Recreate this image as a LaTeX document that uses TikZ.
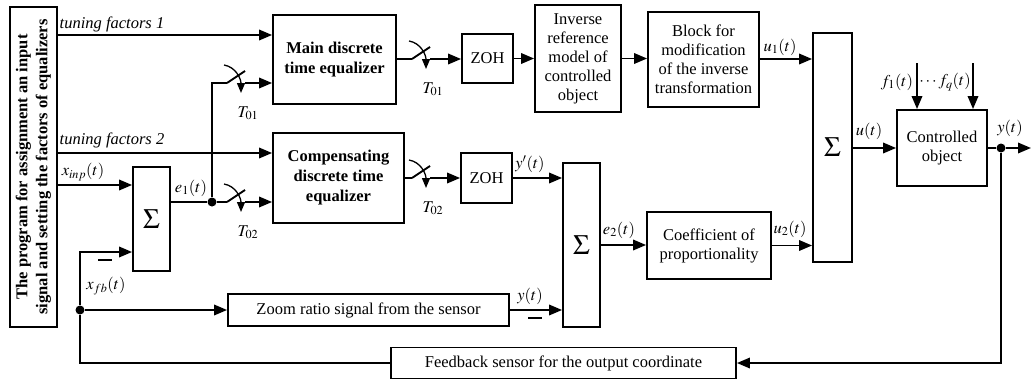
\documentclass[tikz,border=0pt]{standalone}
\usepackage{mathptmx}
\usepackage{fontspec}
\setmainfont{Liberation Serif}
\usetikzlibrary{arrows.meta}
\usetikzlibrary{positioning, calc}

\begin{document}
\begin{tikzpicture}[
    x=1pt, y=-1pt,
    line width=1.9pt,
    font=\fontsize{16.5}{19}\selectfont,
    >={Triangle[length=13pt, width=10.5pt]},
    block/.style={draw, line width=1.9pt, inner sep=0pt, align=center},
    bblock/.style={block, font=\fontsize{16.5}{20}\selectfont\bfseries},
    summer/.style={block, font=\fontsize{28}{28}\selectfont},
    lbl/.style={inner sep=0pt},
    tune/.style={lbl, font=\fontsize{16.5}{19}\selectfont\itshape},
    dot/.style={circle, fill, minimum size=9pt, inner sep=0pt},
    samp/.style={line width=1.3pt, -{Triangle[length=10pt, width=8pt]}}
]
    \useasboundingbox (0,0) rectangle (1032,380);

    \draw (33.5,167) node[bblock, rotate=90, minimum width=320, minimum height=47] (prog) {The program for assignment an input\\signal and setting the factors of equalizers};

    \draw (334.5,59.5) node[bblock, minimum width=123, minimum height=89] (maineq) {Main discrete\\time equalizer};
    \draw (338.5,178) node[bblock, minimum width=131, minimum height=90] (compeq) {Compensating\\discrete time\\equalizer};
    \draw (151.5,219) node[summer, minimum width=37, minimum height=104] (sum1) {$\Sigma$};
    \draw (487.5,58.5) node[block, minimum width=51, minimum height=49] (zoh1) {ZOH};
    \draw (486.5,178) node[block, minimum width=51, minimum height=50] (zoh2) {ZOH};
    \draw (578,58.5) node[block, minimum width=86, minimum height=107] (inv) {Inverse\\reference\\model of\\controlled\\object};
    \draw (703.5,59.5) node[block, minimum width=111, minimum height=95] (modif) {Block for\\modification\\of the inverse\\transformation};
    \draw (581.5,245) node[summer, minimum width=37, minimum height=164] (sum2) {$\Sigma$};
    \draw (709,245.5) node[block, minimum width=124, minimum height=67] (coef) {Coefficient of\\proportionality};
    \draw (832.5,147.5) node[summer, minimum width=39, minimum height=229] (sum3) {$\Sigma$};
    \draw (942,148) node[block, minimum width=90, minimum height=76] (plant) {Controlled\\object};
    \draw (368.5,310) node[block, minimum width=281, minimum height=32] (zoomsig) {Zoom ratio signal from the sensor};
    \draw (563.5,363) node[block, minimum width=345, minimum height=31] (fbsens) {Feedback sensor for the output coordinate};

    \coordinate (lv1) at (0,35);
    \coordinate (lv2) at (0,153);
    \coordinate (lv3) at (0,185);
    \coordinate (lv4) at (0,252);
    \node[dot] (j1) at (212,202) {};
    \node[dot] (j2) at (80,310) {};
    \node[dot] (j3) at (1001,148) {};

    % samplers
    \foreach \sw/\px/\py/\tgt/\lab in {a/227/83/maineq/T_{01}, b/227/202/compeq/T_{02}, c/412/59/zoh1/T_{01}, d/412/178/zoh2/T_{02}} {
        \coordinate (\sw p) at (\px,\py);
        \coordinate (\sw q) at ($(\sw p)+(18,0)$);
        \draw (\sw p) -- ++(18,-12);
        \draw[->] (\sw q) -- (\tgt.west |- \sw q);
        \draw[samp] ($(\sw p)+(-3,-18)$) .. controls +(12,2) and +(0,-14) .. ($(\sw p)+(14,10)$);
        \node[lbl] (\sw t) at ($(\sw p)+(21,30)$) {$\lab$};
    }

    \draw[->] (prog.south |- lv1) -- (maineq.west |- lv1);
    \draw[->] (prog.south |- lv2) -- (compeq.west |- lv2);
    \draw[->] (prog.south |- lv3) -- (sum1.west |- lv3);
    \draw (sum1.east |- j1) -- (j1);
    \draw (j1) |- (ap);
    \draw (j1) -- (bp);
    \draw (maineq.east |- cp) -- (cp);
    \draw (compeq.east |- dp) -- (dp);

    \draw[->] (zoh1.east) -- (inv.west |- zoh1.east);
    \draw[->] (inv.east) -- (modif.west |- inv.east);
    \draw[->] (modif.east |- cp) -- (sum3.west |- cp);
    \draw[->] (zoh2.east) -- (sum2.west |- zoh2.east);
    \draw[->] (zoomsig.east) -- (sum2.west |- zoomsig.east);
    \draw[->] (sum2.east) -- (coef.west |- sum2.east);
    \draw[->] (coef.east) -- (sum3.west |- coef.east);
    \draw[->] (sum3.east |- plant.west) -- (plant.west);

    \coordinate (out) at (1031,148);
    \coordinate (f1) at (917,63);
    \coordinate (fq) at (973,63);
    \draw (plant.east) -- (j3);
    \draw[->] (j3) -- (out);
    \draw[->] (f1) -- (plant.north -| f1);
    \draw[->] (fq) -- (plant.north -| fq);

    % feedback
    \draw[->] (j3) |- (fbsens.east);
    \draw (fbsens.west) -| (j2);
    \draw[->] (j2) |- (sum1.west |- lv4);
    \draw[->] (j2) -- (zoomsig.west);

    \node[tune] (tf1lab) at (112,24) {tuning factors 1};
    \node[tune] (tf2lab) at (112,140) {tuning factors 2};
    \node[lbl] (xinplab) at (83,172) {$x_{inp}(t)$};
    \node[lbl] (e1lab) at (191,188) {$e_1(t)$};
    \node[lbl] (xfblab) at (106,286) {$x_{fb}(t)$};
    \node[lbl] (minus1) at (105,260) {\rule{14pt}{2.6pt}};
    \node[lbl] (yplab) at (530,164) {$y'(t)$};
    \node[lbl] (ylab) at (530,296) {$y(t)$};
    \node[lbl] (minus2) at (535,318) {\rule{14pt}{2.6pt}};
    \node[lbl] (e2lab) at (619,230) {$e_2(t)$};
    \node[lbl] (u2lab) at (790,229) {$u_2(t)$};
    \node[lbl] (u1lab) at (780,47) {$u_1(t)$};
    \node[lbl] (ulab) at (869,131) {$u(t)$};
    \node[lbl] (youtlab) at (1010,128) {$y(t)$};
    \node[lbl] (f1lab) at (897,82) {$f_1(t)$};
    \node[lbl] (fqlab) at (945,82) {$\cdots f_q(t)$};
\end{tikzpicture}
\end{document}
